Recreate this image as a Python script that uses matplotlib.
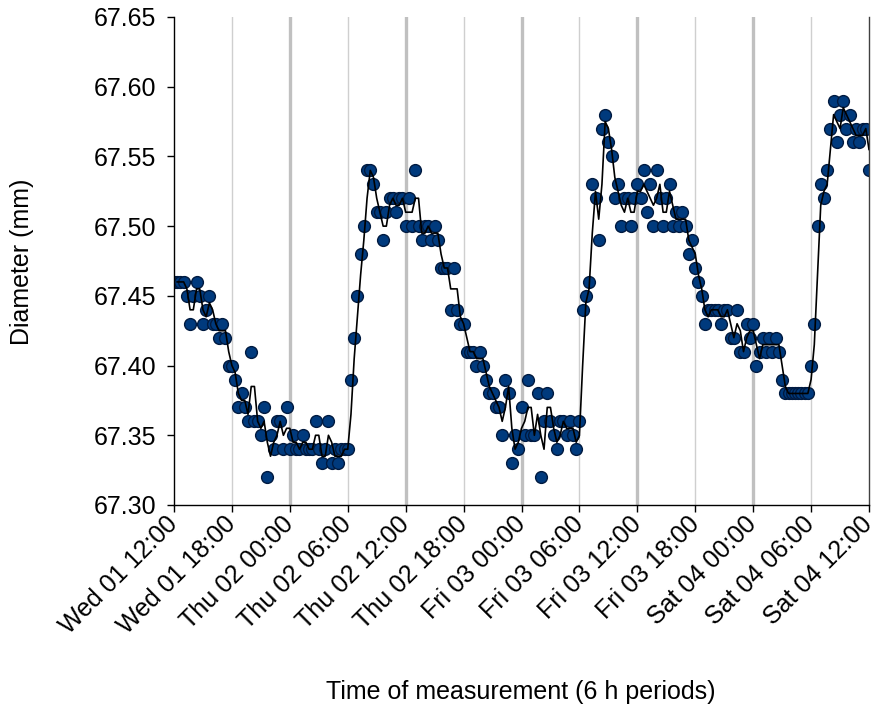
import numpy as np
import pandas as pd
import matplotlib
matplotlib.use("Agg")
import matplotlib.pyplot as plt
from matplotlib.transforms import ScaledTranslation

# Diameter readings every 20 minutes (mm)
diameter = [
    67.46, 67.46, 67.46, 67.46, 67.45, 67.43, 67.45, 67.46, 67.45, 67.43,
    67.44, 67.45, 67.43, 67.43, 67.42, 67.43, 67.42, 67.40, 67.40, 67.39,
    67.37, 67.38, 67.37, 67.36, 67.41, 67.36, 67.36, 67.35, 67.37, 67.32,
    67.35, 67.34, 67.36, 67.36, 67.34, 67.37, 67.34, 67.35, 67.34, 67.34,
    67.35, 67.34, 67.34, 67.34, 67.36, 67.34, 67.33, 67.34, 67.36, 67.33,
    67.34, 67.33, 67.34, 67.34, 67.34, 67.39, 67.42, 67.45, 67.48, 67.50,
    67.54, 67.54, 67.53, 67.51, 67.51, 67.49, 67.51, 67.52, 67.52, 67.51,
    67.52, 67.52, 67.50, 67.52, 67.50, 67.54, 67.50, 67.49, 67.50, 67.50,
    67.49, 67.50, 67.49, 67.47, 67.47, 67.47, 67.44, 67.47, 67.44, 67.43,
    67.43, 67.41, 67.41, 67.41, 67.40, 67.41, 67.40, 67.39, 67.38, 67.38,
    67.37, 67.37, 67.35, 67.39, 67.38, 67.33, 67.35, 67.34, 67.37, 67.35,
    67.39, 67.35, 67.35, 67.38, 67.32, 67.36, 67.38, 67.36, 67.35, 67.34,
    67.36, 67.36, 67.35, 67.36, 67.35, 67.34, 67.36, 67.44, 67.45, 67.46,
    67.53, 67.52, 67.49, 67.57, 67.58, 67.56, 67.55, 67.52, 67.53, 67.50,
    67.52, 67.52, 67.50, 67.52, 67.53, 67.52, 67.54, 67.51, 67.53, 67.50,
    67.54, 67.52, 67.50, 67.52, 67.53, 67.50, 67.51, 67.50, 67.51, 67.50,
    67.48, 67.49, 67.47, 67.46, 67.45, 67.43, 67.44, 67.44, 67.44, 67.44,
    67.43, 67.44, 67.44, 67.42, 67.42, 67.44, 67.41, 67.41, 67.43, 67.42,
    67.43, 67.40, 67.41, 67.42, 67.41, 67.42, 67.41, 67.42, 67.41, 67.39,
    67.38, 67.38, 67.38, 67.38, 67.38, 67.38, 67.38, 67.38, 67.40, 67.43,
    67.50, 67.53, 67.52, 67.54, 67.57, 67.59, 67.56, 67.58, 67.59, 67.57,
    67.58, 67.56, 67.57, 67.56, 67.57, 67.57, 67.54,
]
step_hours = 20 / 60
tick_labels = [
    "Wed 01 12:00", "Wed 01 18:00", "Thu 02 00:00", "Thu 02 06:00",
    "Thu 02 12:00", "Thu 02 18:00", "Fri 03 00:00", "Fri 03 06:00",
    "Fri 03 12:00", "Fri 03 18:00", "Sat 04 00:00", "Sat 04 06:00",
    "Sat 04 12:00",
]
yticks = [67.30, 67.35, 67.40, 67.45, 67.50, 67.55, 67.60, 67.65]

hours = np.arange(len(diameter)) * step_hours
smooth = pd.Series(diameter).rolling(2).mean()
tick_pos = np.arange(len(tick_labels)) * 6

FS = 18
plt.rcParams['font.family'] = ['Liberation Sans', 'DejaVu Sans']
fig = plt.figure(figsize=(8.77, 7.06), dpi=100)
ax = fig.add_axes([174/877, 1-505/706, (869-174)/877, (505-17)/706])

for p in tick_pos[1:-1]:
    if p % 12 == 0:
        ax.axvline(p, color='#c0c0c0', lw=2.4, zorder=0)
    else:
        ax.axvline(p, color='#cfcfcf', lw=1.0, zorder=0)

ax.plot(hours, diameter, 'o', ms=8.5, mfc='#003a7d', mec='#001a40', mew=1.0, zorder=2)
ax.plot(hours, smooth, '-', color='black', lw=1.2, zorder=3)

ax.set_xlim(0, 72)
ax.set_ylim(67.30, 67.65)
ax.set_xticks(tick_pos)
ax.set_xticklabels(tick_labels, rotation=45, ha='right', va='center', rotation_mode='anchor')
shift = ScaledTranslation(-2/100, -1/100, fig.dpi_scale_trans)
for lab in ax.get_xticklabels():
    lab.set_transform(lab.get_transform() + shift)
ax.set_yticks(yticks)
ax.set_yticklabels([f"{v:.2f}" for v in yticks])
ax.tick_params(axis='both', labelsize=FS, direction='out', length=5, width=1, colors='black')
ax.tick_params(axis='x', pad=6)
ax.tick_params(axis='y', pad=8)
ax.spines['top'].set_visible(False)
ax.spines['right'].set_color('#404040')
ax.spines['right'].set_linewidth(1.0)
for s in ('left', 'bottom'):
    ax.spines[s].set_linewidth(1.0)
fig.text(22/877, 1-262/706, "Diameter (mm)", fontsize=FS, rotation=90,
         ha='center', va='center')
fig.text(521/877, 1-692/706, "Time of measurement (6 h periods)", fontsize=FS,
         ha='center', va='center')

fig.savefig("out.png", dpi=100)
